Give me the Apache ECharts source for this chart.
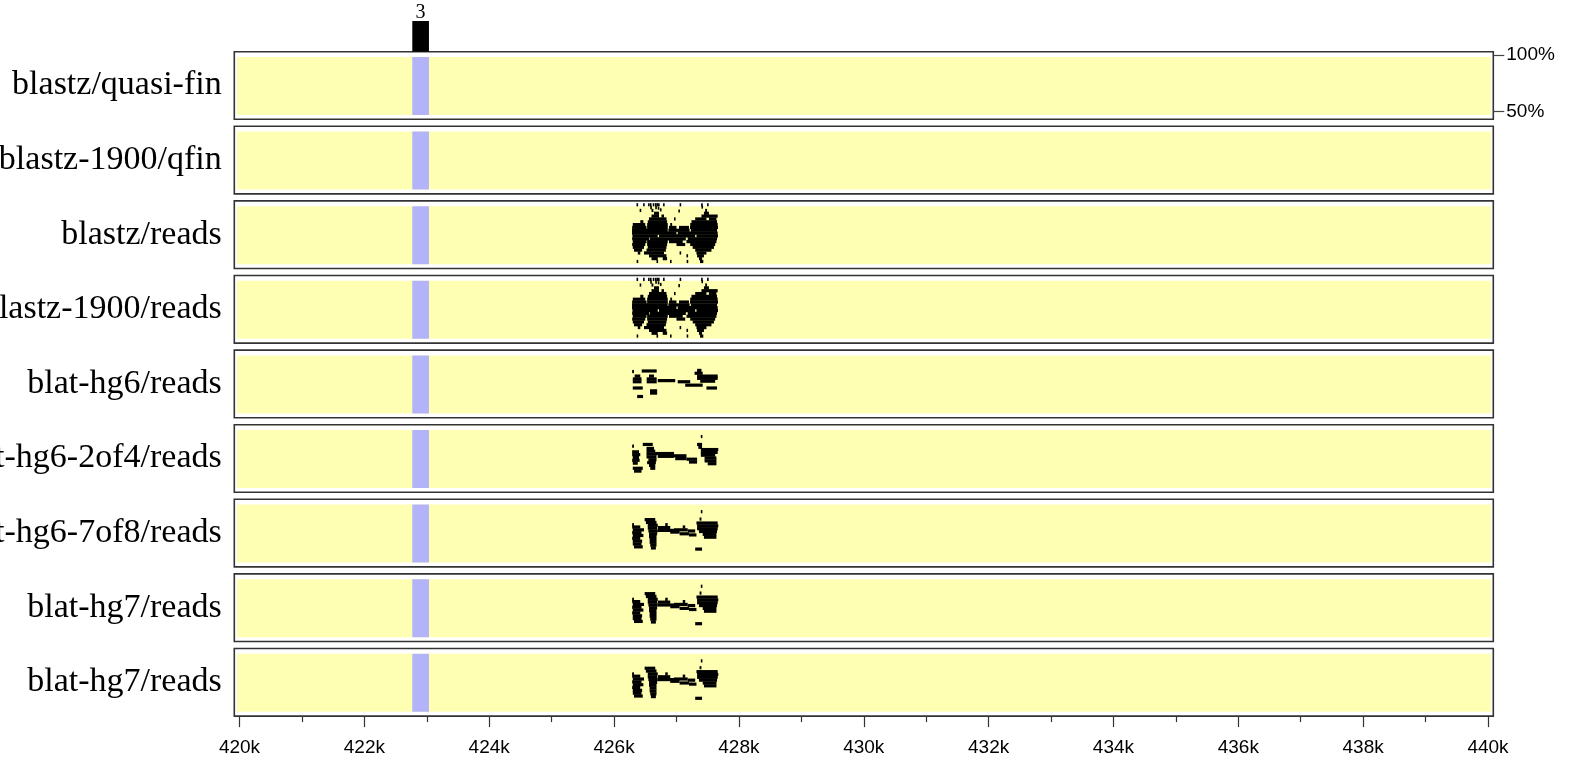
<!DOCTYPE html>
<html><head><meta charset="utf-8">
<script src="https://cdn.jsdelivr.net/npm/echarts@6/dist/echarts.min.js"></script>
<style>html,body{margin:0;padding:0;background:#fff}#c{width:1580px;height:761px}</style>
</head><body><div id="c"></div>
<script>
// ---------------- data ----------------
const trackNames = ['blastz/quasi-fin','blastz-1900/qfin','blastz/reads','blastz-1900/reads','blat-hg6/reads','blat-hg6-2of4/reads','blat-hg6-7of8/reads','blat-hg7/reads','blat-hg7/reads'];
const majorTicks = [420000,422000,424000,426000,428000,430000,432000,434000,436000,438000,440000];
const majorTickLabels = ['420k','422k','424k','426k','428k','430k','432k','434k','436k','438k','440k'];
const minorTicks = [421000,423000,425000,427000,429000,431000,433000,435000,437000,439000];
const pidTicks = [50, 100];
const repeatBand = [422768, 423035];
const repeatCount = 3;

// segments: [start bp, end bp, percent identity]
const blastzReads = [
 [426360,426370,99.5],[426465,426475,99.5],[426545,426555,99.5],[426575,426590,99.5],[426620,426640,99.5],[426655,426670,99.5],[426680,426695,99.5],[426705,426715,99.5],[426785,426795,99.5],[427050,427060,99.5],[427395,427410,99.5],[427490,427505,99.5],
 [426580,426590,97],[426660,426670,97],[426700,426710,96.5],[427400,427410,97.5],
 [426410,426420,94.5],[426600,426630,94.5],[426735,426745,95],[427030,427040,94],[427460,427490,94.5],
 [426640,426720,92],[427440,427520,92],
 [426600,426720,89.5],[426760,426800,89.5],[427400,427660,89.5],
 [426560,426840,87],[426960,426975,87],[427300,427480,87],[427520,427640,87],
 [426420,426470,84.5],[426540,426850,84.5],[427240,427650,84.5],
 [426300,426500,82],[426530,426860,82],[426900,426930,82],[427220,427660,82],
 [426290,426520,79.5],[426530,426860,79.5],[426880,427000,79.5],[427040,427200,79.5],[427217,427665,79.5],
 [426288,426860,77],[426870,427210,77],[427230,427650,77],
 [426288,427000,74.5],[427020,427660,74.5],
 [426295,426700,72],[426720,427300,72],[427320,427665,72],
 [426290,426560,69.5],[426570,427150,69.5],[427180,427650,69.5],
 [426300,426520,67],[426530,426860,67],[426880,427100,67],[427160,427640,67],
 [426290,426500,64.5],[426530,426850,64.5],[427000,427140,64.5],[427220,427620,64.5],
 [426300,426480,62],[426540,426840,62],[427260,427600,62],
 [426320,426450,59.5],[426520,426830,59.5],[427300,427560,59.5],
 [426380,426420,57],[426480,426800,57],[427050,427065,57],[427320,427480,57],
 [426560,426840,54.5],[427160,427175,54.5],[427330,427440,54.5],
 [426600,426700,52],[426780,426850,52],[427360,427410,52],
 [426362,426372,49.5],[426680,426700,49.5],[426896,426906,49.5],[427163,427173,49.5],[427377,427430,49.5]
];
const blastz1900Reads = blastzReads;
const blatHg6 = [
 [426290,426320,84],[426443,426683,84.5],
 [426300,426440,77.5],[426300,426440,75],[426330,426420,80],
 [426523,426683,77.5],[426523,426683,75],[426560,426640,80],
 [426700,426980,76],
 [427020,427220,75],
 [427140,427420,72],
 [427330,427400,85],[427290,427420,82.5],[427330,427660,80],[427330,427660,78],
 [427380,427620,75.5],[427480,427650,69.5],
 [426300,426460,69.5],
 [426576,426690,67],[426576,426690,65],
 [426370,426465,62]
];
const blatHg6_2of4 = [
 [427390,427410,92.5],
 [426290,426320,84],[426460,426620,85.5],[426520,426640,82],
 [426290,426400,79],[426290,426420,76.5],[426300,426400,74],[426290,426410,71.5],[426300,426380,69],
 [426520,426660,79.5],[426520,426680,77],[426520,426680,74.5],[426550,426680,72],[426530,426670,69.5],[426560,426660,67],
 [426660,426960,77.5],[426700,426960,75],
 [426960,427160,75.5],[426980,427160,73],
 [427160,427330,72.5],[427200,427330,70],
 [427330,427410,85.5],[427350,427410,83],[427390,427670,81],[427390,427660,78.5],[427390,427620,76],
 [427450,427640,73.5],[427450,427640,71],[427500,427640,68.5],
 [426300,426460,64.5],[426320,426440,62],[426580,426660,64.5]
];
const blatHg6_7of8 = [
 [427390,427410,92],
 [426490,426660,85],[426510,426680,82.5],
 [426290,426320,80.5],
 [426290,426420,78.5],[426300,426480,76],[426290,426440,73.5],[426300,426470,71],[426290,426420,68.5],[426300,426450,66],
 [426540,426700,80],[426540,426690,77.5],[426550,426700,75],[426560,426690,72.5],[426560,426680,70],[426570,426680,67.5],[426570,426680,65],[426580,426680,62.5],[426590,426670,60],
 [426700,426900,78],[426700,426960,75.5],[426900,427050,74],[426960,427180,76],[427050,427200,72.5],[427180,427300,75],[427200,427320,71.5],[426820,426860,80.5],[427100,427140,78.5],
 [427370,427400,85.5],[427320,427660,82],[427330,427670,79.5],[427330,427660,77],[427360,427650,74.5],[427420,427640,72],[427440,427640,69.5],
 [426300,426440,63.5],[426320,426460,61],
 [427300,427410,59]
];
const blatHg7 = [
 [427390,427410,92],
 [426490,426660,85.5],[426510,426680,83],
 [426290,426320,80.5],
 [426290,426420,78.5],[426300,426480,76],[426290,426440,73.5],[426300,426470,71],[426290,426420,68.5],[426300,426450,66],
 [426540,426700,80.5],[426540,426690,78],[426550,426700,75.5],[426560,426690,73],[426560,426680,70.5],[426570,426680,68],[426570,426680,65.5],[426580,426680,63],[426590,426670,60.5],
 [426700,426900,78],[426700,426960,75.5],[426900,427050,74],[426960,427180,76],[427050,427200,72.5],[427180,427300,75],[427200,427320,71.5],[426820,426860,80.5],[427100,427140,78.5],
 [427370,427400,86],[427320,427660,82.5],[427330,427670,80],[427330,427660,77.5],[427360,427650,75],[427420,427640,72.5],[427440,427640,70],
 [426300,426440,63.5],[426320,426460,61],
 [427300,427410,59]
];
const trackSegments = [[], [], blastzReads, blastz1900Reads, blatHg6, blatHg6_2of4, blatHg6_7of8, blatHg7, blatHg7];

// ---------------- layout ----------------
const X_MIN = 419960, X_MAX = 440048;
const Y_MIN = 47.1, Y_MAX = 98.24;
const PLOT_L = 237, PLOT_W = 1254, TOP0 = 57, PITCH = 74.6, PLOT_H = 58;
const BOX_L = 234.3, BOX_W = 1259, BOX_DY = 5.3, BOX_H = 67.6;
const SEG_H = 3.2;
const YELLOW = '#ffffb4', BLUE = '#b3b3fa';
const N = trackNames.length;

const grids = [], xAxes = [], yAxes = [], series = [], graphics = [];
for (let i = 0; i < N; i++) {
  grids.push({left: PLOT_L, top: TOP0 + PITCH * i, width: PLOT_W, height: PLOT_H, show: true, backgroundColor: YELLOW, borderWidth: 0});
  const last = i === N - 1;
  xAxes.push({type: 'value', gridIndex: i, min: X_MIN, max: X_MAX, show: last, position: 'bottom', offset: 4.3,
    axisLine: {show: false, onZero: false}, splitLine: {show: false},
    axisTick: {show: true, length: 11, customValues: majorTicks, lineStyle: {color: '#333', width: 1.2}},
    axisLabel: {show: true, customValues: majorTicks, margin: 22, fontSize: 19, color: '#000', fontFamily: 'Liberation Sans',
      formatter: v => majorTickLabels[majorTicks.indexOf(v)]}});
  yAxes.push({type: 'value', gridIndex: i, min: Y_MIN, max: Y_MAX, show: false});
  series.push({type: 'custom', xAxisIndex: i, yAxisIndex: i, silent: true, clip: false, z: 2,
    data: [repeatBand],
    renderItem: (p, api) => {
      const a = api.coord([api.value(0), Y_MAX]);
      const b = api.coord([api.value(1), Y_MIN]);
      return {type: 'rect', shape: {x: a[0], y: a[1], width: b[0] - a[0], height: b[1] - a[1]}, style: {fill: BLUE}};
    }});
  series.push({type: 'custom', xAxisIndex: i, yAxisIndex: i, silent: true, clip: false, z: 3,
    data: trackSegments[i],
    encode: {x: [0, 1], y: 2},
    renderItem: (p, api) => {
      const a = api.coord([api.value(0), api.value(2)]);
      const b = api.coord([api.value(1), api.value(2)]);
      return {type: 'rect', shape: {x: a[0], y: a[1] - SEG_H / 2, width: Math.max(b[0] - a[0], 1.6), height: SEG_H}, style: {fill: '#000'}};
    }});
  const boxTop = TOP0 - BOX_DY + PITCH * i;
  graphics.push({type: 'rect', silent: true, shape: {x: BOX_L, y: boxTop, width: BOX_W, height: BOX_H},
    style: {fill: 'none', stroke: '#333', lineWidth: 1.6}});
  graphics.push({type: 'text', silent: true, x: 221.7, y: boxTop + BOX_H / 2,
    style: {text: trackNames[i], align: 'right', verticalAlign: 'middle', fontSize: 34, fontFamily: 'Liberation Serif', fill: '#000'}});
}
// top repeat-count bar
grids.push({left: PLOT_L, top: 21, width: PLOT_W, height: TOP0 - BOX_DY - 21});
xAxes.push({type: 'value', gridIndex: N, min: X_MIN, max: X_MAX, show: false});
yAxes.push({type: 'value', gridIndex: N, min: 0, max: 1, show: false});
series.push({type: 'custom', xAxisIndex: N, yAxisIndex: N, silent: true, clip: false,
  data: [[repeatBand[0], repeatBand[1], repeatCount]],
  renderItem: (p, api) => {
    const a = api.coord([api.value(0), 1]);
    const b = api.coord([api.value(1), 0]);
    return {type: 'group', children: [
      {type: 'rect', shape: {x: a[0], y: a[1], width: b[0] - a[0], height: b[1] - a[1]}, style: {fill: '#000'}},
      {type: 'text', x: (a[0] + b[0]) / 2, y: a[1] + 1.5, style: {text: String(api.value(2)), align: 'center', verticalAlign: 'bottom', fontSize: 20, fontFamily: 'Liberation Serif', fill: '#000'}}
    ]};
  }});
// right percent axis on first track
grids.push({left: PLOT_L, top: 55, width: BOX_L + BOX_W - PLOT_L, height: 56.7});
xAxes.push({type: 'value', gridIndex: N + 1, min: 0, max: 1, show: false});
yAxes.push({type: 'value', gridIndex: N + 1, position: 'right', min: pidTicks[0], max: pidTicks[1], interval: pidTicks[1] - pidTicks[0],
  axisLine: {show: false, onZero: false}, splitLine: {show: false},
  axisTick: {show: true, length: 11, lineStyle: {color: '#444', width: 1.2}},
  axisLabel: {margin: 13, fontSize: 19, color: '#000', fontFamily: 'Liberation Sans', formatter: '{value}%'}});
// minor ticks on bottom axis
xAxes.push({type: 'value', gridIndex: N - 1, min: X_MIN, max: X_MAX, position: 'bottom', offset: 4.3,
  axisLine: {show: false, onZero: false}, splitLine: {show: false},
  axisTick: {show: true, length: 6, customValues: minorTicks, lineStyle: {color: '#333', width: 1.2}},
  axisLabel: {show: false}});

const chart = echarts.init(document.getElementById('c'), null, {renderer: 'canvas'});
chart.setOption({animation: false, backgroundColor: '#fff', grid: grids, xAxis: xAxes, yAxis: yAxes, series: series, graphic: {elements: graphics}});
</script></body></html>
